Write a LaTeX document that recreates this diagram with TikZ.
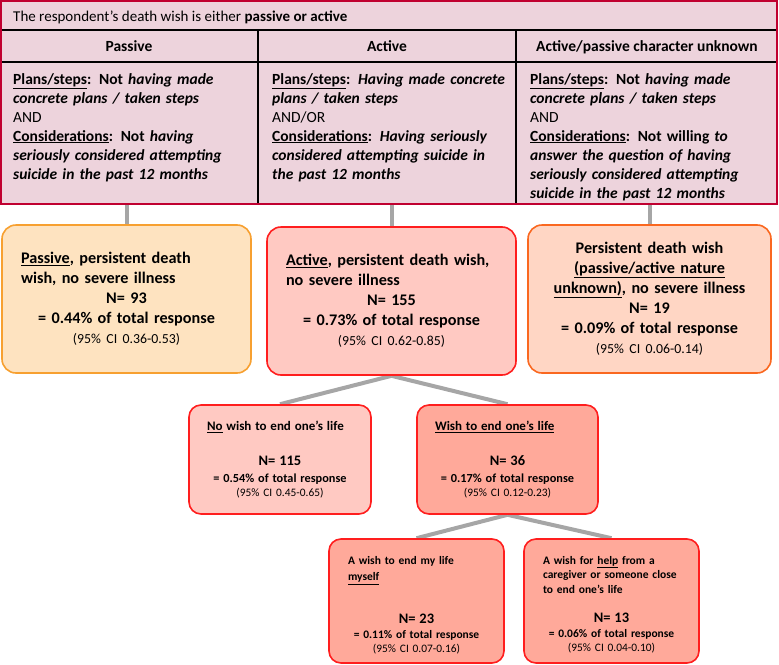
\documentclass[tikz,border=0pt]{standalone}
\usepackage{fontspec}
\setmainfont{Carlito}
\usetikzlibrary{positioning,backgrounds}
\usepackage{xcolor}
\definecolor{tablepink}{RGB}{237,211,220}
\definecolor{tablered}{RGB}{192,0,48}
\definecolor{linkgray}{RGB}{166,166,166}
\definecolor{passfill}{RGB}{254,227,192}
\definecolor{passdraw}{RGB}{247,160,48}
\definecolor{actfill}{RGB}{255,201,194}
\definecolor{actdraw}{RGB}{255,30,30}
\definecolor{unkfill}{RGB}{255,214,196}
\definecolor{unkdraw}{RGB}{250,104,32}
\definecolor{wishfill}{RGB}{255,169,154}
\newcommand{\titlefont}{\fontsize{15}{19}\selectfont}
\newcommand{\tabfont}{\fontsize{15.5}{19}\selectfont}
\newcommand{\boxfont}{\fontsize{16.2}{20}\selectfont}
\newcommand{\cifont}{\fontsize{13.8}{20}\selectfont}
\newcommand{\midfont}{\fontsize{13}{15}\selectfont}
\newcommand{\midpct}{\fontsize{12.3}{15}\selectfont}
\newcommand{\smallfont}{\fontsize{11.5}{15}\selectfont}
\newcommand{\nfont}{\fontsize{14.5}{15}\selectfont}
\newcommand{\smallci}{\fontsize{11.4}{15}\selectfont}
\newcommand{\lft}[1]{\makebox[\hsize][l]{#1}}

\begin{document}
\begin{tikzpicture}[x=1pt,y=-1pt,
    link/.style={draw=linkgray,line width=4pt},
    bigbox/.style={rounded corners=14pt,line width=1.6pt,inner xsep=19pt,inner ysep=0pt,
      minimum height=148pt,align=center,font=\boxfont\bfseries},
    smallbox/.style={rounded corners=12pt,line width=1.6pt,inner xsep=18pt,inner ysep=0pt,
      align=center,font=\smallfont\bfseries,draw=actdraw},
    colhead/.style={anchor=base,font=\tabfont\bfseries},
    coltext/.style={anchor=north west,inner sep=0pt,text width=245pt,align=left,font=\tabfont\bfseries},
  ]
    \useasboundingbox (0,0) rectangle (779,664);
    % table of the three kinds of death wish
    \fill[tablepink] (0,0) rectangle (778,205);
    \draw[line width=1.2pt] (0,30) -- (778,30) (0,62) -- (778,62)
      (258,30) -- (258,205) (516,30) -- (516,205);
    \draw[tablered,line width=2.4pt] (1,1) rectangle (777,204);
    \coordinate (tbot) at (0,205);
    \node[anchor=base west,inner sep=0pt,font=\titlefont] (title) at (13,21)
      {The respondent’s death wish is either \textbf{passive or active}};
    \node[colhead] (hpas) at (129,51) {Passive};
    \node[colhead] (hact) at (387,51) {Active};
    \node[colhead] (hunk) at (647,51) {Active/passive character unknown};
    \node[coltext] (tpas) at (13,73) {\underline{Plans/steps}: Not \textit{having made}\\
      \textit{concrete plans / taken steps}\\ {\mdseries AND}\\
      \underline{Considerations}: Not \textit{having}\\
      \textit{seriously considered attempting}\\ \textit{suicide in the past 12 months}};
    \node[coltext] (tact) at (272,73) {\underline{Plans/steps}: \textit{Having made concrete}\\
      \textit{plans / taken steps}\\ {\mdseries AND/OR}\\
      \underline{Considerations}: \textit{Having seriously}\\
      \textit{considered attempting suicide in}\\ \textit{the past 12 months}};
    \node[coltext] (tunk) at (530,73) {\underline{Plans/steps}: Not \textit{having made}\\
      \textit{concrete plans / taken steps}\\ {\mdseries AND}\\
      \underline{Considerations}: Not willing \textit{to}\\
      \textit{answer the question of having}\\ \textit{seriously considered attempting}\\
      \textit{suicide in the past 12 months}};

    % first level
    \node[bigbox,fill=passfill,draw=passdraw,text width=211pt] (passive) at (126.5,299)
      {\lft{\underline{Passive}, persistent death}\\ \lft{wish, no severe illness}\\
       N= 93\\ = 0.44\% of total response\\ {\cifont\mdseries (95\% CI 0.36-0.53)}};
    \node[bigbox,fill=actfill,draw=actdraw,text width=211pt] (active) at (391.5,301)
      {\lft{\underline{Active}, persistent death wish,}\\ \lft{no severe illness}\\
       N= 155\\ = 0.73\% of total response\\ {\cifont\mdseries (95\% CI 0.62-0.85)}};
    \node[bigbox,fill=unkfill,draw=unkdraw,text width=205pt] (unknown) at (649.5,299)
      {Persistent death wish\\ \underline{(passive/active nature}\\
       \underline{unknown)}, no severe illness\\ N= 19\\ = 0.09\% of total response\\
       {\cifont\mdseries (95\% CI 0.06-0.14)}};

    % second level
    \node[smallbox,fill=actfill,text width=146pt,minimum height=109pt] (nowish) at (280,459.5)
      {\lft{\midfont\underline{No} wish to end one’s life}\\[20pt] {\nfont N= 115}\\[2pt]
       {\midpct = 0.54\% of total response}\\[-1pt] {\smallci\mdseries (95\% CI 0.45-0.65)}};
    \node[smallbox,fill=wishfill,text width=145pt,minimum height=109pt] (wish) at (507.5,459.5)
      {\lft{\midfont\underline{Wish to end one’s life}}\\[20pt] {\nfont N= 36}\\[2pt]
       {\midpct = 0.17\% of total response}\\[-1pt] {\smallci\mdseries (95\% CI 0.12-0.23)}};

    % third level
    \node[smallbox,fill=wishfill,text width=137pt,minimum height=124pt,inner xsep=19pt] (myself) at (416.5,601)
      {\lft{\rule{0pt}{17pt}A wish to end my life}\\[1pt] \lft{\underline{myself}}\\[28pt] {\nfont N= 23}\\
       = 0.11\% of total response\\[-1pt] {\smallci\mdseries (95\% CI 0.07-0.16)}};
    \node[smallbox,fill=wishfill,text width=137pt,minimum height=124pt,inner xsep=19pt] (help) at (611.5,601)
      {\lft{\rule{0pt}{15pt}A wish for \underline{help} from a}\\[-1pt] \lft{caregiver or someone close}\\
       \lft{to end one’s life}\\[14pt] {\nfont N= 13}\\
       = 0.06\% of total response\\[-1pt] {\smallci\mdseries (95\% CI 0.04-0.10)}};

    \begin{scope}[on background layer]
      \foreach \b in {passive,active,unknown}
        \draw[link] (\b.north) -- (\b.north |- tbot);
      \draw[link] (active.south) -- (nowish.north);
      \draw[link] (active.south) -- (wish.north);
      \draw[link] (wish.south) -- (myself.north);
      \draw[link] (wish.south) -- (help.north);
    \end{scope}
  \end{tikzpicture}
\end{document}
